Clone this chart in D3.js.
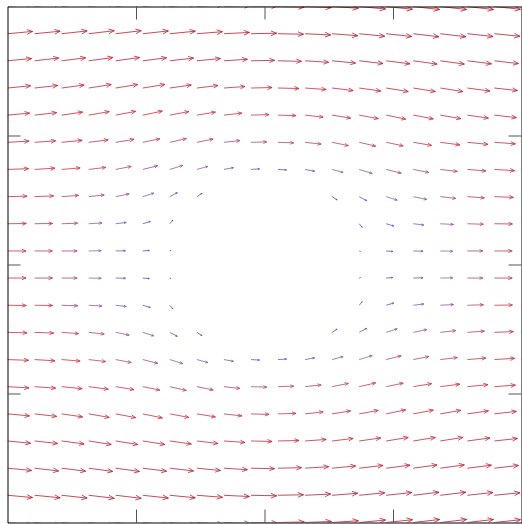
<!DOCTYPE html>
<html>
<head>
<meta charset="utf-8">
<script src="https://cdn.jsdelivr.net/npm/d3@7"></script>
<style>
  body { margin: 0; background: #fff; }
  svg { display: block; }
</style>
</head>
<body>
<div id="quiver"></div>
<script>
// grid positions (data units), x left->right, y top->bottom
var xGrid = [-2.000,-1.789,-1.579,-1.368,-1.158,-0.947,-0.737,-0.526,-0.316,-0.105,
              0.105, 0.316, 0.526, 0.737, 0.947, 1.158, 1.368, 1.579, 1.789, 2.000];
var yGrid = [ 2.000, 1.789, 1.579, 1.368, 1.158, 0.947, 0.737, 0.526, 0.316, 0.105,
             -0.105,-0.316,-0.526,-0.737,-0.947,-1.158,-1.368,-1.579,-1.789,-2.000];

// horizontal velocity, one row per yGrid entry (null = inside the body)
var uRows = [
  [1.03,1.04,1.04,1.05,1.05,1.05,1.05,1.05,1.05,1.05,1.05,1.05,1.05,1.05,1.05,1.05,1.05,1.04,1.04,1.03],
  [1.00,1.02,1.02,1.02,1.02,1.02,1.02,1.02,1.02,1.02,1.02,1.02,1.02,1.02,1.02,1.02,1.02,1.02,1.02,1.00],
  [0.96,0.96,0.96,0.96,0.95,0.95,0.95,0.94,0.94,0.94,0.94,0.94,0.94,0.95,0.95,0.95,0.96,0.96,0.96,0.96],
  [0.92,0.92,0.90,0.90,0.88,0.88,0.86,0.84,0.84,0.84,0.84,0.84,0.84,0.86,0.88,0.88,0.90,0.90,0.92,0.92],
  [0.88,0.88,0.84,0.82,0.80,0.78,0.76,0.74,0.72,0.72,0.72,0.72,0.74,0.76,0.78,0.80,0.82,0.84,0.88,0.88],
  [0.86,0.84,0.82,0.78,0.73,0.68,0.66,0.65,0.64,0.63,0.63,0.64,0.65,0.66,0.68,0.73,0.78,0.82,0.84,0.86],
  [0.84,0.81,0.74,0.68,0.62,0.60,0.52,0.44,0.38,0.34,0.34,0.38,0.44,0.52,0.60,0.62,0.68,0.74,0.81,0.84],
  [0.78,0.76,0.68,0.62,0.54,0.44,0.30,0.20,null,null,null,null,0.20,0.30,0.44,0.54,0.62,0.68,0.76,0.78],
  [0.75,0.72,0.64,0.53,0.42,0.30,0.12,null,null,null,null,null,null,0.12,0.30,0.42,0.53,0.64,0.72,0.75],
  [0.74,0.71,0.62,0.50,0.39,0.26,0.05,null,null,null,null,null,null,0.05,0.26,0.39,0.50,0.62,0.71,0.74],
  [0.74,0.71,0.62,0.50,0.39,0.26,0.05,null,null,null,null,null,null,0.05,0.26,0.39,0.50,0.62,0.71,0.74],
  [0.75,0.72,0.64,0.53,0.42,0.30,0.12,null,null,null,null,null,null,0.12,0.30,0.42,0.53,0.64,0.72,0.75],
  [0.78,0.76,0.68,0.62,0.54,0.44,0.30,0.20,null,null,null,null,0.20,0.30,0.44,0.54,0.62,0.68,0.76,0.78],
  [0.84,0.81,0.74,0.68,0.62,0.60,0.52,0.44,0.38,0.34,0.34,0.38,0.44,0.52,0.60,0.62,0.68,0.74,0.81,0.84],
  [0.86,0.84,0.82,0.78,0.73,0.68,0.66,0.65,0.64,0.63,0.63,0.64,0.65,0.66,0.68,0.73,0.78,0.82,0.84,0.86],
  [0.88,0.88,0.84,0.82,0.80,0.78,0.76,0.74,0.72,0.72,0.72,0.72,0.74,0.76,0.78,0.80,0.82,0.84,0.88,0.88],
  [0.92,0.92,0.90,0.90,0.88,0.88,0.86,0.84,0.84,0.84,0.84,0.84,0.84,0.86,0.88,0.88,0.90,0.90,0.92,0.92],
  [0.96,0.96,0.96,0.96,0.95,0.95,0.95,0.94,0.94,0.94,0.94,0.94,0.94,0.95,0.95,0.95,0.96,0.96,0.96,0.96],
  [1.00,1.02,1.02,1.02,1.02,1.02,1.02,1.02,1.02,1.02,1.02,1.02,1.02,1.02,1.02,1.02,1.02,1.02,1.02,1.00],
  [1.03,1.04,1.04,1.05,1.05,1.05,1.05,1.05,1.05,1.05,1.05,1.05,1.05,1.05,1.05,1.05,1.05,1.04,1.04,1.03]
];

// vertical velocity (positive = up)
var vRows = [
  [0.10,0.11,0.12,0.12,0.12,0.11,0.10,0.07,0.04,0.02,-0.02,-0.04,-0.07,-0.10,-0.11,-0.12,-0.12,-0.12,-0.11,-0.10],
  [0.09,0.10,0.11,0.12,0.12,0.11,0.10,0.08,0.05,0.02,-0.02,-0.05,-0.08,-0.10,-0.11,-0.12,-0.12,-0.11,-0.10,-0.09],
  [0.09,0.11,0.12,0.13,0.13,0.12,0.11,0.09,0.06,0.02,-0.02,-0.06,-0.09,-0.11,-0.12,-0.13,-0.13,-0.12,-0.11,-0.09],
  [0.09,0.10,0.12,0.14,0.14,0.14,0.12,0.10,0.06,0.02,-0.02,-0.06,-0.10,-0.12,-0.14,-0.14,-0.14,-0.12,-0.10,-0.09],
  [0.08,0.10,0.12,0.14,0.15,0.16,0.14,0.12,0.08,0.02,-0.02,-0.08,-0.12,-0.14,-0.16,-0.15,-0.14,-0.12,-0.10,-0.08],
  [0.05,0.06,0.08,0.10,0.12,0.14,0.15,0.13,0.07,0.02,-0.02,-0.07,-0.13,-0.15,-0.14,-0.12,-0.10,-0.08,-0.06,-0.05],
  [0.03,0.05,0.06,0.08,0.12,0.15,0.16,0.12,0.07,0.02,-0.02,-0.07,-0.12,-0.16,-0.15,-0.12,-0.08,-0.06,-0.05,-0.03],
  [0.02,0.03,0.05,0.07,0.11,0.14,0.16,0.13,null,null,null,null,-0.13,-0.16,-0.14,-0.11,-0.07,-0.05,-0.03,-0.02],
  [0.01,0.01,0.02,0.03,0.05,0.09,0.14,null,null,null,null,null,null,-0.14,-0.09,-0.05,-0.03,-0.02,-0.01,-0.01],
  [0.00,0.00,0.00,0.01,0.01,0.02,0.02,null,null,null,null,null,null,-0.02,-0.02,-0.01,-0.01,0.00,0.00,0.00],
  [0.00,0.00,0.00,-0.01,-0.01,-0.02,-0.02,null,null,null,null,null,null,0.02,0.02,0.01,0.01,0.00,0.00,0.00],
  [-0.01,-0.01,-0.02,-0.03,-0.05,-0.09,-0.14,null,null,null,null,null,null,0.14,0.09,0.05,0.03,0.02,0.01,0.01],
  [-0.02,-0.03,-0.05,-0.07,-0.11,-0.14,-0.16,-0.13,null,null,null,null,0.13,0.16,0.14,0.11,0.07,0.05,0.03,0.02],
  [-0.03,-0.05,-0.06,-0.08,-0.12,-0.15,-0.16,-0.12,-0.07,-0.02,0.02,0.07,0.12,0.16,0.15,0.12,0.08,0.06,0.05,0.03],
  [-0.05,-0.06,-0.08,-0.10,-0.12,-0.14,-0.15,-0.13,-0.07,-0.02,0.02,0.07,0.13,0.15,0.14,0.12,0.10,0.08,0.06,0.05],
  [-0.08,-0.10,-0.12,-0.14,-0.15,-0.16,-0.14,-0.12,-0.08,-0.02,0.02,0.08,0.12,0.14,0.16,0.15,0.14,0.12,0.10,0.08],
  [-0.09,-0.10,-0.12,-0.14,-0.14,-0.14,-0.12,-0.10,-0.06,-0.02,0.02,0.06,0.10,0.12,0.14,0.14,0.14,0.12,0.10,0.09],
  [-0.09,-0.11,-0.12,-0.13,-0.13,-0.12,-0.11,-0.09,-0.06,-0.02,0.02,0.06,0.09,0.11,0.12,0.13,0.13,0.12,0.11,0.09],
  [-0.09,-0.10,-0.11,-0.12,-0.12,-0.11,-0.10,-0.08,-0.05,-0.02,0.02,0.05,0.08,0.10,0.11,0.12,0.12,0.11,0.10,0.09],
  [-0.10,-0.11,-0.12,-0.12,-0.12,-0.11,-0.10,-0.07,-0.04,-0.02,0.02,0.04,0.07,0.10,0.11,0.12,0.12,0.12,0.11,0.10]
];

var tickValues = [-1, 0, 1];

var width = 522, height = 524;
var arrowScale = 0.195;   // data units per unit of speed

var svg = d3.select("#quiver").append("svg")
    .attr("width", width)
    .attr("height", height);

var x = d3.scaleLinear().domain([-2, 2]).range([7.5, 521.5]);
var y = d3.scaleLinear().domain([-2, 2]).range([522.5, 6.5]);

// colour by speed: slow = blue, fast = red
var color = d3.scaleLinear()
    .domain([0.25, 0.5, 0.75, 1.05])
    .range(["#5050cc", "#8c68aa", "#cc3444", "#b41c30"])
    .clamp(true);

svg.append("clipPath").attr("id", "plot-clip")
  .append("rect")
    .attr("x", x(-2)).attr("y", y(2))
    .attr("width", x(2) - x(-2)).attr("height", y(-2) - y(2));

// flatten the grid into arrow records
var arrows = [];
yGrid.forEach(function(yy, j) {
    xGrid.forEach(function(xx, i) {
        var u = uRows[j][i], v = vRows[j][i];
        if (u == null || v == null) return;
        arrows.push({ x: xx, y: yy, u: u, v: v, s: Math.sqrt(u * u + v * v) });
    });
});

function arrowPath(d) {
    var x0 = x(d.x), y0 = y(d.y);
    var x1 = x(d.x + arrowScale * d.u), y1 = y(d.y + arrowScale * d.v);
    var dx = x1 - x0, dy = y1 - y0;
    var alpha = 0.22, beta = 0.42;
    // open head, two short strokes back from the tip
    var hx1 = x1 - alpha * (dx + beta * dy), hy1 = y1 - alpha * (dy - beta * dx);
    var hx2 = x1 - alpha * (dx - beta * dy), hy2 = y1 - alpha * (dy + beta * dx);
    return "M" + x0 + "," + y0 + "L" + x1 + "," + y1 +
           "M" + hx1 + "," + hy1 + "L" + x1 + "," + y1 + "L" + hx2 + "," + hy2;
}

svg.append("g")
    .attr("class", "arrows")
    .attr("clip-path", "url(#plot-clip)")
  .selectAll("path")
    .data(arrows)
  .enter().append("path")
    .attr("d", arrowPath)
    .attr("fill", "none")
    .attr("stroke", function(d) { return color(d.s); })
    .attr("stroke-width", 1)
    .attr("stroke-opacity", 0.8);

// frame with inward ticks, no labels
function styleAxis(g) {
    g.select(".domain").attr("stroke", "#000");
    g.selectAll(".tick line").attr("stroke", "#555");
    g.selectAll(".tick text").remove();
}

svg.append("g")
    .attr("transform", "translate(0," + y(-2) + ")")
    .call(d3.axisBottom(x).tickValues(tickValues).tickSizeInner(-13).tickSizeOuter(0).tickFormat(""))
    .call(styleAxis);

svg.append("g")
    .attr("transform", "translate(0," + y(2) + ")")
    .call(d3.axisTop(x).tickValues(tickValues).tickSizeInner(-13).tickSizeOuter(0).tickFormat(""))
    .call(styleAxis);

svg.append("g")
    .attr("transform", "translate(" + x(-2) + ",0)")
    .call(d3.axisLeft(y).tickValues(tickValues).tickSizeInner(-13).tickSizeOuter(0).tickFormat(""))
    .call(styleAxis);

svg.append("g")
    .attr("transform", "translate(" + x(2) + ",0)")
    .call(d3.axisRight(y).tickValues(tickValues).tickSizeInner(-13).tickSizeOuter(0).tickFormat(""))
    .call(styleAxis);
</script>
</body>
</html>
